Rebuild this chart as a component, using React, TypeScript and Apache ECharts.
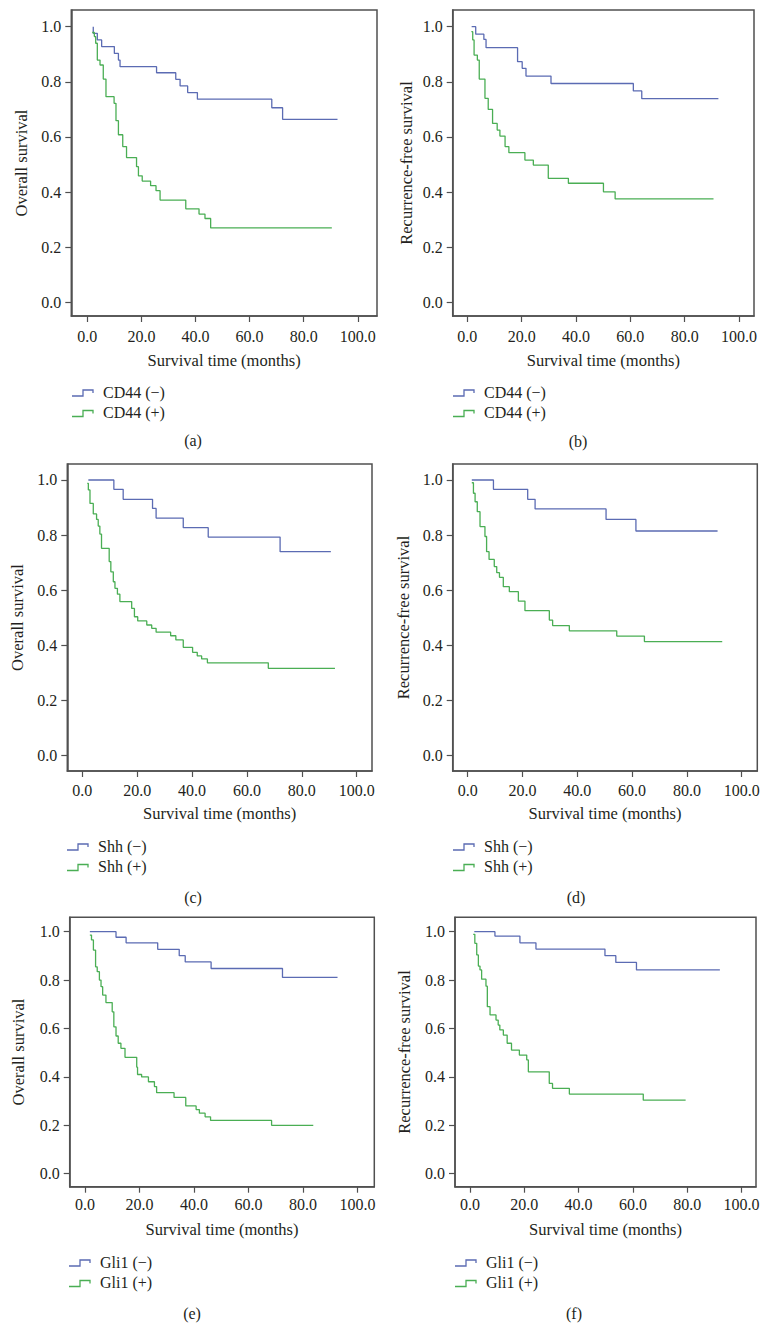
import React, { useEffect, useRef } from "react";
import * as echarts from "echarts";

// ---------- data ----------
const xTicks = [0, 20, 40, 60, 80, 100];
const yTicks = [0, 0.2, 0.4, 0.6, 0.8, 1.0];
const xAxisTitle = "Survival time (months)";
const panelLabels = ["(a)", "(b)", "(c)", "(d)", "(e)", "(f)"];
const yTitles = [
  "Overall survival",
  "Recurrence-free survival",
  "Overall survival",
  "Recurrence-free survival",
  "Overall survival",
  "Recurrence-free survival",
];
const markers = ["CD44", "CD44", "Shh", "Shh", "Gli1", "Gli1"];

// (a) CD44, overall survival
const aNegT = [2.2, 2.2, 3.7, 5.3, 10.0, 11.5, 12.1, 25.6, 32.7, 34.3, 37.1, 40.7, 68.2, 72.2, 92.5];
const aNegS = [1.0, 0.976, 0.952, 0.928, 0.903, 0.879, 0.855, 0.833, 0.809, 0.785, 0.761, 0.737, 0.706, 0.664, 0.664];
const aPosT = [1.8, 2.6, 3.1, 3.7, 4.7, 5.9, 6.9, 9.9, 10.6, 11.5, 13.1, 14.5, 18.2, 18.9, 20.3, 23.4, 25.4, 26.9, 36.4, 41.3, 43.5, 45.6, 90.4];
const aPosS = [0.979, 0.964, 0.94, 0.879, 0.861, 0.81, 0.746, 0.722, 0.659, 0.608, 0.565, 0.525, 0.492, 0.459, 0.44, 0.423, 0.405, 0.371, 0.339, 0.32, 0.304, 0.27, 0.27];

// (b) CD44, recurrence-free survival
const bNegT = [1.6, 3.1, 6.1, 6.9, 18.5, 20.2, 21.6, 30.8, 61.1, 64.2, 92.4];
const bNegS = [1.0, 0.973, 0.954, 0.924, 0.873, 0.849, 0.821, 0.794, 0.767, 0.739, 0.739];
const bPosT = [1.5, 2.0, 2.5, 3.7, 4.4, 6.5, 7.7, 9.3, 11.0, 12.0, 13.9, 15.3, 21.2, 24.3, 29.8, 37.2, 50.1, 54.4, 90.6];
const bPosS = [0.982, 0.952, 0.897, 0.879, 0.81, 0.74, 0.7, 0.649, 0.625, 0.603, 0.565, 0.543, 0.516, 0.498, 0.45, 0.432, 0.401, 0.375, 0.375];

// (c) Shh, overall survival
const cNegT = [2.2, 11.5, 14.9, 25.6, 26.9, 36.8, 45.9, 72.1, 90.6];
const cNegS = [1.0, 0.966, 0.93, 0.897, 0.862, 0.827, 0.793, 0.74, 0.74];
const cPosT = [1.8, 2.2, 2.8, 4.0, 5.2, 5.8, 6.4, 7.0, 9.8, 10.4, 11.3, 11.9, 12.8, 13.7, 18.0, 19.0, 20.2, 23.5, 25.3, 26.9, 32.2, 34.1, 36.8, 40.2, 41.9, 43.5, 45.6, 67.8, 92.1];
const cPosS = [0.988, 0.964, 0.915, 0.877, 0.857, 0.833, 0.804, 0.752, 0.704, 0.667, 0.631, 0.607, 0.586, 0.559, 0.534, 0.504, 0.489, 0.474, 0.462, 0.448, 0.435, 0.42, 0.393, 0.375, 0.362, 0.351, 0.337, 0.317, 0.317];

// (d) Shh, recurrence-free survival
const dNegT = [1.5, 9.4, 21.9, 24.6, 50.5, 61.4, 91.2];
const dNegS = [1.0, 0.966, 0.93, 0.895, 0.857, 0.815, 0.815];
const dPosT = [1.5, 2.1, 2.7, 3.5, 4.5, 6.3, 6.9, 7.8, 9.7, 10.6, 11.6, 13.0, 15.2, 18.5, 20.9, 29.8, 31.0, 37.1, 54.4, 64.5, 92.9];
const dPosS = [0.99, 0.952, 0.921, 0.885, 0.831, 0.795, 0.74, 0.712, 0.686, 0.664, 0.647, 0.613, 0.595, 0.561, 0.526, 0.492, 0.472, 0.453, 0.434, 0.414, 0.414];

// (e) Gli1, overall survival
const eNegT = [1.8, 11.4, 15.1, 26.7, 34.6, 36.8, 46.3, 72.5, 92.7];
const eNegS = [1.0, 0.977, 0.954, 0.927, 0.901, 0.875, 0.848, 0.811, 0.811];
const ePosT = [1.8, 2.4, 3.1, 3.9, 4.5, 5.3, 5.9, 6.5, 7.7, 10.0, 10.6, 11.4, 12.2, 13.2, 14.7, 19.0, 19.3, 20.8, 23.3, 25.5, 26.3, 32.7, 37.0, 40.8, 42.0, 44.1, 46.1, 68.5, 83.8];
const ePosS = [0.986, 0.966, 0.924, 0.855, 0.835, 0.8, 0.773, 0.738, 0.707, 0.669, 0.607, 0.569, 0.539, 0.518, 0.481, 0.44, 0.41, 0.4, 0.38, 0.36, 0.335, 0.315, 0.28, 0.265, 0.25, 0.235, 0.22, 0.2, 0.2];

// (f) Gli1, recurrence-free survival
const fNegT = [1.6, 9.2, 18.4, 24.3, 49.7, 53.7, 61.3, 92.0];
const fNegS = [1.0, 0.982, 0.954, 0.928, 0.901, 0.873, 0.842, 0.842];
const fPosT = [1.2, 1.8, 2.5, 3.1, 3.7, 4.3, 5.9, 6.4, 7.4, 9.6, 10.4, 11.0, 12.3, 13.7, 15.3, 18.2, 20.9, 21.5, 29.2, 30.4, 36.6, 63.8, 79.4];
const fPosS = [0.989, 0.952, 0.904, 0.858, 0.842, 0.804, 0.775, 0.69, 0.656, 0.635, 0.614, 0.594, 0.573, 0.539, 0.511, 0.49, 0.47, 0.421, 0.373, 0.353, 0.329, 0.304, 0.304];

const negCurves = [
  [aNegT, aNegS],
  [bNegT, bNegS],
  [cNegT, cNegS],
  [dNegT, dNegS],
  [eNegT, eNegS],
  [fNegT, fNegS],
];
const posCurves = [
  [aPosT, aPosS],
  [bPosT, bPosS],
  [cPosT, cPosS],
  [dPosT, dPosS],
  [ePosT, ePosS],
  [fPosT, fPosS],
];

// ---------- layout ----------
const layout = [
  { left: 71.3, top: 10, width: 305.7, height: 306, xMin: -5.92, xMax: 107.1, yMin: -0.0497, yMax: 1.0606, yGap: 41, xGap: 36, xMargin: 12, legX: 72, legY: 392, labX: 193, labY: 440 },
  { left: 452.7, top: 10, width: 301.3, height: 306, xMin: -5.37, xMax: 105.5, yMin: -0.0497, yMax: 1.0606, yGap: 38, xGap: 36, xMargin: 12, legX: 453, legY: 392, labX: 578, labY: 441 },
  { left: 67.3, top: 464, width: 304.7, height: 307, xMin: -5.47, xMax: 105.6, yMin: -0.0555, yMax: 1.058, yGap: 41, xGap: 34, xMargin: 11, legX: 67, legY: 846, labX: 193, labY: 897 },
  { left: 452.7, top: 464, width: 304.6, height: 307, xMin: -5.47, xMax: 105.7, yMin: -0.0555, yMax: 1.058, yGap: 41, xGap: 34, xMargin: 11, legX: 453, legY: 846, labX: 576, labY: 897 },
  { left: 69.7, top: 917.3, width: 304.6, height: 269.4, xMin: -5.6, xMax: 106.2, yMin: -0.0537, yMax: 1.0595, yGap: 43, xGap: 34, xMargin: 10, legX: 69, legY: 1262, labX: 192, labY: 1313 },
  { left: 455, top: 917.3, width: 301, height: 269.4, xMin: -5.5, xMax: 105.3, yMin: -0.0537, yMax: 1.0595, yGap: 42, xGap: 34, xMargin: 10, legX: 455, legY: 1262, labX: 574, labY: 1313 },
];

const FONT = "'Liberation Serif', 'Times New Roman', serif";
const TEXT = "#231f20";
const FRAME = "#505050";
const BLUE = "#5b6bb3";
const GREEN = "#4aae54";

function buildOption() {
  const grid: any[] = [];
  const xAxis: any[] = [];
  const yAxis: any[] = [];
  const series: any[] = [];
  const graphic: any[] = [];

  layout.forEach((L, i) => {
    grid.push({
      left: L.left,
      top: L.top,
      width: L.width,
      height: L.height,
      show: true,
      borderColor: FRAME,
      borderWidth: 1.5,
      backgroundColor: "transparent",
      containLabel: false,
    });
    xAxis.push({
      type: "value",
      gridIndex: i,
      min: L.xMin,
      max: L.xMax,
      name: xAxisTitle,
      nameLocation: "middle",
      nameGap: L.xGap,
      nameTextStyle: { fontFamily: FONT, fontSize: 16.5, color: TEXT },
      axisLine: { show: true, onZero: false, lineStyle: { color: FRAME, width: 1.5 } },
      axisTick: { show: true, length: 6, inside: false, customValues: xTicks, lineStyle: { color: FRAME, width: 1.2 } },
      axisLabel: {
        show: true,
        customValues: xTicks,
        margin: L.xMargin,
        fontFamily: FONT,
        fontSize: 16,
        color: TEXT,
        formatter: (v: number) => v.toFixed(1),
      },
      splitLine: { show: false },
    });
    yAxis.push({
      type: "value",
      gridIndex: i,
      min: L.yMin,
      max: L.yMax,
      name: yTitles[i],
      nameLocation: "middle",
      nameRotate: 90,
      nameGap: L.yGap,
      nameTextStyle: { fontFamily: FONT, fontSize: 16.5, color: TEXT },
      axisLine: { show: true, onZero: false, lineStyle: { color: FRAME, width: 1.5 } },
      axisTick: { show: true, length: 6, inside: false, customValues: yTicks, lineStyle: { color: FRAME, width: 1.2 } },
      axisLabel: {
        show: true,
        customValues: yTicks,
        margin: 10,
        fontFamily: FONT,
        fontSize: 16,
        color: TEXT,
        formatter: (v: number) => v.toFixed(1),
      },
      splitLine: { show: false },
    });

    const [nt, ns] = negCurves[i];
    const [pt, ps] = posCurves[i];
    series.push({
      type: "line",
      name: markers[i] + " (−)",
      xAxisIndex: i,
      yAxisIndex: i,
      step: "end",
      symbol: "none",
      data: nt.map((t, j) => [t, ns[j]]),
      lineStyle: { color: BLUE, width: 1.3 },
      itemStyle: { color: BLUE },
    });
    series.push({
      type: "line",
      name: markers[i] + " (+)",
      xAxisIndex: i,
      yAxisIndex: i,
      step: "end",
      symbol: "none",
      data: pt.map((t, j) => [t, ps[j]]),
      lineStyle: { color: GREEN, width: 1.3 },
      itemStyle: { color: GREEN },
    });

    // legend (custom step icons)
    const rows = [
      { label: markers[i] + " (−)", color: BLUE, y: L.legY },
      { label: markers[i] + " (+)", color: GREEN, y: L.legY + 20.5 },
    ];
    rows.forEach((r) => {
      const x = L.legX;
      graphic.push({
        type: "polyline",
        shape: {
          points: [
            [x, r.y + 4],
            [x + 11, r.y + 4],
            [x + 11, r.y - 2],
            [x + 21, r.y - 2],
            [x + 21, r.y + 1],
          ],
        },
        style: { stroke: r.color, lineWidth: 1.3, fill: null },
      });
      graphic.push({
        type: "text",
        x: x + 31,
        y: r.y,
        style: {
          text: r.label,
          fill: TEXT,
          font: `16px ${FONT}`,
          align: "left",
          textAlign: "left",
          verticalAlign: "middle",
          textVerticalAlign: "middle",
        },
      });
    });
    graphic.push({
      type: "text",
      x: L.labX,
      y: L.labY,
      style: {
        text: panelLabels[i],
        fill: TEXT,
        font: `16px ${FONT}`,
        align: "center",
        textAlign: "center",
        verticalAlign: "middle",
        textVerticalAlign: "middle",
      },
    });
  });

  return {
    animation: false,
    backgroundColor: "#ffffff",
    grid,
    xAxis,
    yAxis,
    series,
    graphic,
  };
}

export default function App() {
  const ref = useRef<HTMLDivElement>(null);
  useEffect(() => {
    if (!ref.current) return;
    const chart = echarts.init(ref.current, null, { renderer: "svg" });
    chart.setOption(buildOption() as any);
    return () => chart.dispose();
  }, []);
  return (
    <div
      ref={ref}
      style={{ position: "absolute", left: 0, top: 0, width: 770, height: 1330, background: "#fff" }}
    />
  );
}
